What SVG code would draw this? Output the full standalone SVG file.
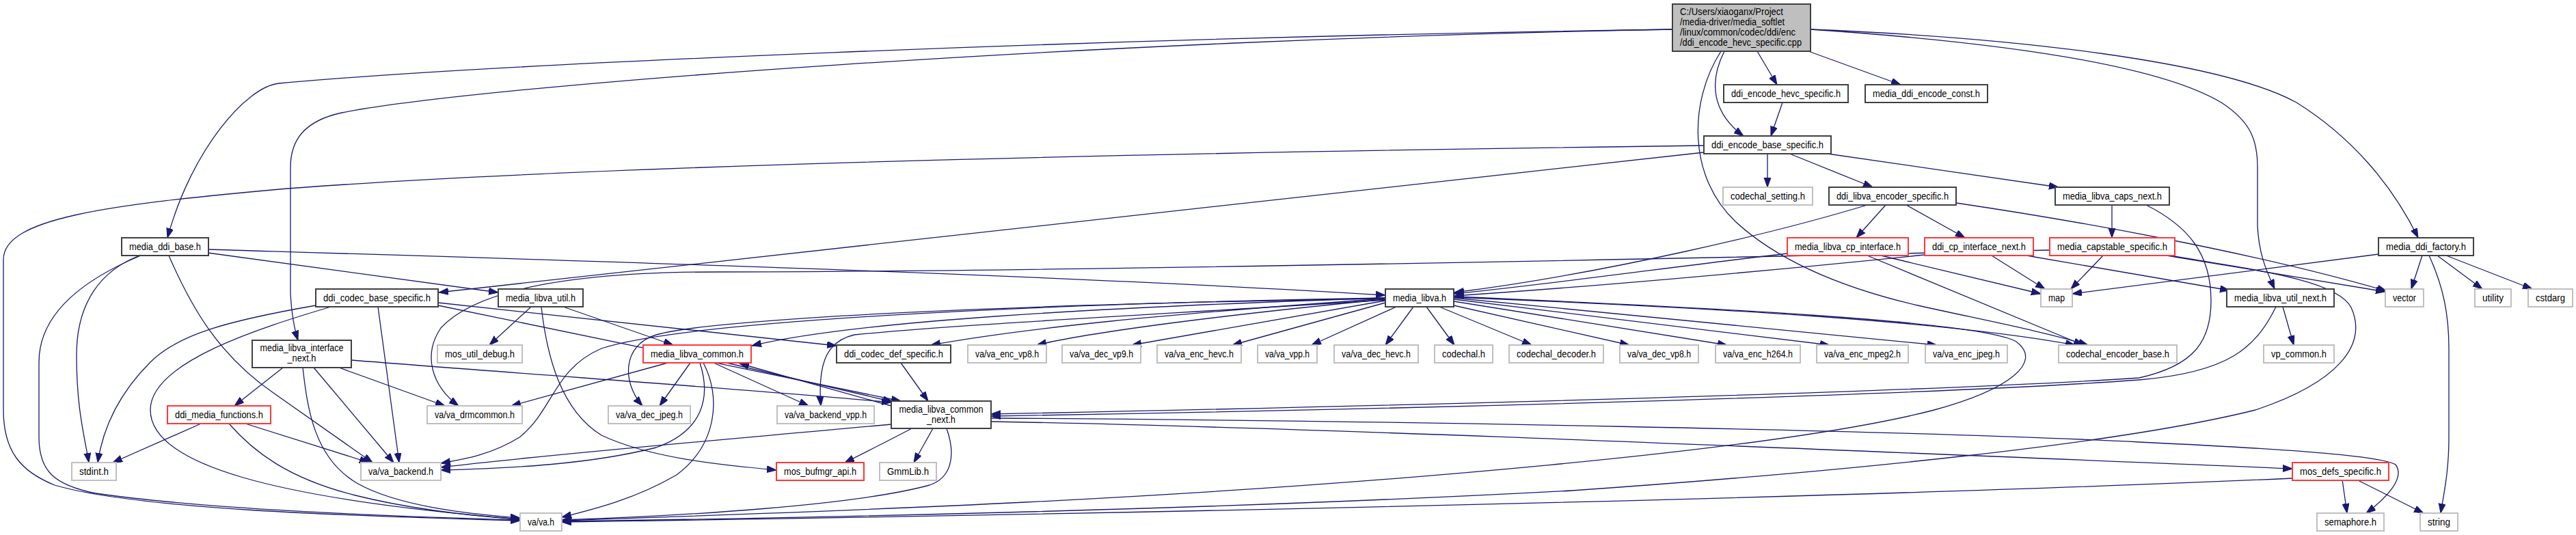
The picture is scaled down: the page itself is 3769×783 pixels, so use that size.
<svg xmlns="http://www.w3.org/2000/svg" width="3769" height="783" viewBox="0 0 3769 783">
<style>
rect{fill:#fff;stroke:#404040;stroke-width:2}
.g rect{stroke:#bfbfbf}
.r rect{stroke:#ff3838}
.root rect{fill:#bfbfbf}
text{font-family:"Liberation Sans",Arial,sans-serif;font-size:14px;fill:#000;text-anchor:middle}
.root text{text-anchor:start}
#edges path{fill:none;stroke:#191970;stroke-width:1.3;marker-end:url(#a)}
</style>
<defs>
<marker id="a" markerUnits="userSpaceOnUse" markerWidth="15" markerHeight="11" refX="14" refY="5" orient="auto"><path d="M0,0 L14,5 L0,10 z" fill="#191970" stroke="#191970" stroke-width="1"/></marker>
</defs>
<rect x="0" y="0" width="3769" height="783" style="fill:#fff;stroke:none"/>
<g id="edges">
<path d="M2447,43 C1600,55 700,95 408,122 C360,127 280,220 245,348"/>
<path d="M2447,43 C1600,58 700,125 500,165 C445,177 425,205 425,245 L425,430 Q427,470 436,498"/>
<path d="M2649,43 C2900,60 3150,90 3250,150 C3293,178 3303,205 3303,245 L3303,330 C3305,375 3318,400 3328,423"/>
<path d="M2649,43 C2950,55 3250,90 3360,150 C3440,200 3500,270 3538,348"/>
<path d="M2571,75 L2600,124"/>
<path d="M2646,75 L2781,124"/>
<path d="M2523,75 C2500,120 2505,165 2551,199"/>
<path d="M2518,75 C2470,150 2470,260 2540,325 C2600,380 2690,420 2806,447 C2900,468 2990,485 3055,505"/>
<path d="M2608,150 L2591,199"/>
<path d="M2586,224 L2586,274"/>
<path d="M2616,224 L2740,274"/>
<path d="M2667,224 L3012,274"/>
<path d="M2493,213 C1800,222 900,240 420,276 C150,300 5,320 5,380 L5,600 C5,660 30,690 80,710 C200,745 500,755 761,762"/>
<path d="M2493,223 L642,428"/>
<path d="M2759,300 L2716,348"/>
<path d="M2789,300 L2875,348"/>
<path d="M2732,300 C2600,340 2350,400 2128,428"/>
<path d="M2862,297 C3050,325 3300,370 3492,426"/>
<path d="M2615,371 C2450,390 2300,412 2128,430"/>
<path d="M2732,374 L3048,505"/>
<path d="M2752,374 L2986,430"/>
<path d="M2816,373 C2600,395 2350,418 2128,433"/>
<path d="M2914,374 L2992,423"/>
<path d="M2965,374 L3262,425"/>
<path d="M3077,374 L3030,423"/>
<path d="M3170,374 L3490,427"/>
<path d="M3175,374 C3300,395 3420,410 3440,450 C3465,505 3420,560 3300,600 C3100,650 2700,690 2300,718 C1800,745 1200,758 822,763"/>
<path d="M2999,366 C2500,378 1500,398 1050,398 C850,398 700,420 645,480 C618,520 632,565 671,594"/>
<path d="M3090,300 L3090,348"/>
<path d="M3140,300 C3200,330 3235,370 3235,440 C3235,500 3210,535 3130,553 C2800,575 2000,595 1450,606"/>
<path d="M3340,449 L3356,505"/>
<path d="M3330,449 C3300,510 3260,545 3130,556 C2800,580 2000,600 1450,609"/>
<path d="M3480,372 L3032,430"/>
<path d="M3544,374 L3528,423"/>
<path d="M3554,374 C3575,420 3583,460 3583,510 L3583,640 C3583,690 3576,720 3571,751"/>
<path d="M3566,374 L3632,423"/>
<path d="M3579,374 L3705,423"/>
<path d="M304,370 L729,428"/>
<path d="M304,365 C800,380 1500,400 2027,432"/>
<path d="M204,374 C150,395 112,440 112,520 C112,600 124,640 130,677"/>
<path d="M206,374 C120,410 57,460 57,530 L57,640 C57,690 80,710 140,722 C300,745 550,755 761,761"/>
<path d="M247,374 C280,450 320,520 400,575 C450,610 500,645 545,677"/>
<path d="M462,447 C330,470 260,490 220,530 C170,580 150,630 143,677"/>
<path d="M484,449 C380,480 220,530 220,600 C220,680 400,730 761,760"/>
<path d="M553,449 L584,677"/>
<path d="M641,443 L1224,506"/>
<path d="M641,447 L1318,587"/>
<path d="M1318,531 L1358,587"/>
<path d="M414,538 L343,594"/>
<path d="M459,538 L576,677"/>
<path d="M443,538 C450,600 460,670 522,707 C580,740 680,752 761,758"/>
<path d="M496,538 L651,594"/>
<path d="M514,527 C800,550 1100,570 1304,589"/>
<path d="M294,620 L165,677"/>
<path d="M359,620 L540,677"/>
<path d="M335,620 C370,660 420,700 520,725 C600,745 690,755 761,760"/>
<path d="M777,449 L716,505"/>
<path d="M824,449 L985,505"/>
<path d="M792,449 C800,520 820,600 880,637 C950,670 1050,680 1136,688"/>
<path d="M977,531 L748,594"/>
<path d="M1010,531 L965,594"/>
<path d="M1044,531 L1183,594"/>
<path d="M1024,531 C1040,580 1030,630 960,655 C860,680 750,685 645,688"/>
<path d="M1029,531 C1055,580 1050,650 990,695 C930,730 870,745 822,757"/>
<path d="M1063,531 L1306,588"/>
<path d="M1304,594 L1082,532"/>
<path d="M2043,449 L1919,505"/>
<path d="M2068,449 L2027,505"/>
<path d="M2087,449 L2128,505"/>
<path d="M2106,449 L2241,505"/>
<path d="M2127,447 L2384,505"/>
<path d="M2127,441 L2527,505"/>
<path d="M2127,438 L2677,505"/>
<path d="M2127,436 L2834,505"/>
<path d="M2127,435 C2500,450 2850,470 3036,505"/>
<path d="M2127,434 C2500,450 2900,470 2950,500 C2990,530 2940,570 2830,600 C2600,660 2000,710 1500,735 C1200,750 950,757 822,762"/>
<path d="M2027,437 C1700,460 1500,480 1362,505"/>
<path d="M2027,438 C1800,460 1600,485 1517,505"/>
<path d="M2027,440 L1656,505"/>
<path d="M2027,443 L1803,505"/>
<path d="M2027,436 C1600,450 1250,470 1100,506"/>
<path d="M2027,439 C1700,460 1400,475 1250,490 C1205,500 1197,540 1201,594"/>
<path d="M2027,437 C1500,445 1050,465 960,490 C910,505 910,560 940,594"/>
<path d="M2027,436 C1500,445 1000,470 880,510 C810,540 810,600 760,640 C720,665 680,672 645,678"/>
<path d="M1304,621 C1100,640 800,665 645,684"/>
<path d="M1334,627 C1300,645 1260,665 1236,677"/>
<path d="M1365,627 L1337,677"/>
<path d="M1385,627 C1400,670 1390,700 1360,710 C1250,740 1000,755 822,761"/>
<path d="M1450,617 C1900,625 2600,655 3354,686"/>
<path d="M1450,612 C2000,615 2800,630 3130,647 C3300,655 3480,665 3505,680 C3520,700 3490,730 3462,751"/>
<path d="M3427,702 L3434,751"/>
<path d="M3448,702 L3546,751"/>
<path d="M3354,700 C2800,725 1800,750 822,764"/>
</g>
<g id="root" class="root"><rect x="2447" y="6" width="202" height="69"/>
<text x="2458" y="21.5" textLength="151" lengthAdjust="spacingAndGlyphs">C:/Users/xiaoganx/Project</text>
<text x="2458" y="36.5" textLength="153" lengthAdjust="spacingAndGlyphs">/media-driver/media_softlet</text>
<text x="2458" y="51.5" textLength="169" lengthAdjust="spacingAndGlyphs">/linux/common/codec/ddi/enc</text>
<text x="2458" y="66.5" textLength="178" lengthAdjust="spacingAndGlyphs">/ddi_encode_hevc_specific.cpp</text></g>
<g id="n_dehs"><rect x="2522" y="124" width="182" height="26"/><text x="2613" y="142" textLength="160" lengthAdjust="spacingAndGlyphs">ddi_encode_hevc_specific.h</text></g>
<g id="n_mdec"><rect x="2729" y="124" width="179" height="26"/><text x="2818.5" y="142" textLength="157" lengthAdjust="spacingAndGlyphs">media_ddi_encode_const.h</text></g>
<g id="n_debs"><rect x="2493" y="199" width="186" height="26"/><text x="2586" y="217" textLength="164" lengthAdjust="spacingAndGlyphs">ddi_encode_base_specific.h</text></g>
<g id="n_cs" class="g"><rect x="2521" y="274" width="131" height="26"/><text x="2586.5" y="292" textLength="109" lengthAdjust="spacingAndGlyphs">codechal_setting.h</text></g>
<g id="n_dles"><rect x="2676" y="274" width="186" height="26"/><text x="2769" y="292" textLength="164" lengthAdjust="spacingAndGlyphs">ddi_libva_encoder_specific.h</text></g>
<g id="n_mlcan"><rect x="3007" y="274" width="167" height="26"/><text x="3090.5" y="292" textLength="145" lengthAdjust="spacingAndGlyphs">media_libva_caps_next.h</text></g>
<g id="n_mdb"><rect x="178" y="348" width="127" height="26"/><text x="241.5" y="366" textLength="105" lengthAdjust="spacingAndGlyphs">media_ddi_base.h</text></g>
<g id="n_mlcpi" class="r"><rect x="2615" y="348" width="177" height="26"/><text x="2703.5" y="366" textLength="155" lengthAdjust="spacingAndGlyphs">media_libva_cp_interface.h</text></g>
<g id="n_dcin" class="r"><rect x="2816" y="348" width="159" height="26"/><text x="2895.5" y="366" textLength="137" lengthAdjust="spacingAndGlyphs">ddi_cp_interface_next.h</text></g>
<g id="n_mcs" class="r"><rect x="2999" y="348" width="183" height="26"/><text x="3090.5" y="366" textLength="161" lengthAdjust="spacingAndGlyphs">media_capstable_specific.h</text></g>
<g id="n_mdf"><rect x="3480" y="348" width="139" height="26"/><text x="3549.5" y="366" textLength="117" lengthAdjust="spacingAndGlyphs">media_ddi_factory.h</text></g>
<g id="n_dcbs"><rect x="462" y="423" width="179" height="26"/><text x="551.5" y="441" textLength="157" lengthAdjust="spacingAndGlyphs">ddi_codec_base_specific.h</text></g>
<g id="n_mlu"><rect x="729" y="423" width="124" height="26"/><text x="791" y="441" textLength="102" lengthAdjust="spacingAndGlyphs">media_libva_util.h</text></g>
<g id="n_ml"><rect x="2027" y="423" width="100" height="26"/><text x="2077" y="441" textLength="78" lengthAdjust="spacingAndGlyphs">media_libva.h</text></g>
<g id="n_map" class="g"><rect x="2986" y="423" width="46" height="26"/><text x="3009" y="441" textLength="24" lengthAdjust="spacingAndGlyphs">map</text></g>
<g id="n_mlun"><rect x="3258" y="423" width="157" height="26"/><text x="3336.5" y="441" textLength="135" lengthAdjust="spacingAndGlyphs">media_libva_util_next.h</text></g>
<g id="n_vector" class="g"><rect x="3490" y="423" width="56" height="26"/><text x="3518" y="441" textLength="34" lengthAdjust="spacingAndGlyphs">vector</text></g>
<g id="n_utility" class="g"><rect x="3621" y="423" width="53" height="26"/><text x="3647.5" y="441" textLength="31" lengthAdjust="spacingAndGlyphs">utility</text></g>
<g id="n_cstdarg" class="g"><rect x="3699" y="423" width="65" height="26"/><text x="3731.5" y="441" textLength="43" lengthAdjust="spacingAndGlyphs">cstdarg</text></g>
<g id="n_mlin"><rect x="369" y="498" width="145" height="40"/><text x="441.5" y="514" textLength="122" lengthAdjust="spacingAndGlyphs">media_libva_interface</text><text x="441.5" y="529" textLength="42" lengthAdjust="spacingAndGlyphs">_next.h</text></g>
<g id="n_mud" class="g"><rect x="640" y="505" width="124" height="26"/><text x="702" y="523" textLength="102" lengthAdjust="spacingAndGlyphs">mos_util_debug.h</text></g>
<g id="n_mlc" class="r"><rect x="941" y="505" width="158" height="26"/><text x="1020" y="523" textLength="136" lengthAdjust="spacingAndGlyphs">media_libva_common.h</text></g>
<g id="n_dcds"><rect x="1224" y="505" width="167" height="26"/><text x="1307.5" y="523" textLength="145" lengthAdjust="spacingAndGlyphs">ddi_codec_def_specific.h</text></g>
<g id="n_vev8" class="g"><rect x="1416" y="505" width="115" height="26"/><text x="1473.5" y="523" textLength="93" lengthAdjust="spacingAndGlyphs">va/va_enc_vp8.h</text></g>
<g id="n_vdv9" class="g"><rect x="1554" y="505" width="115" height="26"/><text x="1611.5" y="523" textLength="93" lengthAdjust="spacingAndGlyphs">va/va_dec_vp9.h</text></g>
<g id="n_veh" class="g"><rect x="1693" y="505" width="123" height="26"/><text x="1754.5" y="523" textLength="101" lengthAdjust="spacingAndGlyphs">va/va_enc_hevc.h</text></g>
<g id="n_vvpp" class="g"><rect x="1840" y="505" width="87" height="26"/><text x="1883.5" y="523" textLength="65" lengthAdjust="spacingAndGlyphs">va/va_vpp.h</text></g>
<g id="n_vdh" class="g"><rect x="1952" y="505" width="123" height="26"/><text x="2013.5" y="523" textLength="101" lengthAdjust="spacingAndGlyphs">va/va_dec_hevc.h</text></g>
<g id="n_codechal" class="g"><rect x="2099" y="505" width="85" height="26"/><text x="2141.5" y="523" textLength="63" lengthAdjust="spacingAndGlyphs">codechal.h</text></g>
<g id="n_cdec" class="g"><rect x="2208" y="505" width="138" height="26"/><text x="2277" y="523" textLength="116" lengthAdjust="spacingAndGlyphs">codechal_decoder.h</text></g>
<g id="n_vdv8" class="g"><rect x="2370" y="505" width="115" height="26"/><text x="2427.5" y="523" textLength="93" lengthAdjust="spacingAndGlyphs">va/va_dec_vp8.h</text></g>
<g id="n_ve264" class="g"><rect x="2510" y="505" width="124" height="26"/><text x="2572" y="523" textLength="102" lengthAdjust="spacingAndGlyphs">va/va_enc_h264.h</text></g>
<g id="n_vem2" class="g"><rect x="2658" y="505" width="134" height="26"/><text x="2725" y="523" textLength="112" lengthAdjust="spacingAndGlyphs">va/va_enc_mpeg2.h</text></g>
<g id="n_vej" class="g"><rect x="2817" y="505" width="120" height="26"/><text x="2877" y="523" textLength="98" lengthAdjust="spacingAndGlyphs">va/va_enc_jpeg.h</text></g>
<g id="n_ceb" class="g"><rect x="3012" y="505" width="173" height="26"/><text x="3098.5" y="523" textLength="151" lengthAdjust="spacingAndGlyphs">codechal_encoder_base.h</text></g>
<g id="n_vpc" class="g"><rect x="3312" y="505" width="103" height="26"/><text x="3363.5" y="523" textLength="81" lengthAdjust="spacingAndGlyphs">vp_common.h</text></g>
<g id="n_dmf" class="r"><rect x="245" y="594" width="151" height="26"/><text x="320.5" y="612" textLength="129" lengthAdjust="spacingAndGlyphs">ddi_media_functions.h</text></g>
<g id="n_drm" class="g"><rect x="625" y="594" width="139" height="26"/><text x="694.5" y="612" textLength="117" lengthAdjust="spacingAndGlyphs">va/va_drmcommon.h</text></g>
<g id="n_vdj" class="g"><rect x="890" y="594" width="120" height="26"/><text x="950" y="612" textLength="98" lengthAdjust="spacingAndGlyphs">va/va_dec_jpeg.h</text></g>
<g id="n_vbv" class="g"><rect x="1137" y="594" width="142" height="26"/><text x="1208" y="612" textLength="120" lengthAdjust="spacingAndGlyphs">va/va_backend_vpp.h</text></g>
<g id="n_mlcn"><rect x="1304" y="587" width="146" height="40"/><text x="1377" y="603.5" textLength="123" lengthAdjust="spacingAndGlyphs">media_libva_common</text><text x="1377" y="618.5" textLength="42" lengthAdjust="spacingAndGlyphs">_next.h</text></g>
<g id="n_stdint" class="g"><rect x="105" y="677" width="65" height="26"/><text x="137.5" y="695" textLength="43" lengthAdjust="spacingAndGlyphs">stdint.h</text></g>
<g id="n_vab" class="g"><rect x="528" y="677" width="117" height="26"/><text x="586.5" y="695" textLength="95" lengthAdjust="spacingAndGlyphs">va/va_backend.h</text></g>
<g id="n_mba" class="r"><rect x="1136" y="677" width="128" height="26"/><text x="1200" y="695" textLength="106" lengthAdjust="spacingAndGlyphs">mos_bufmgr_api.h</text></g>
<g id="n_gmm" class="g"><rect x="1287" y="677" width="83" height="26"/><text x="1328.5" y="695" textLength="61" lengthAdjust="spacingAndGlyphs">GmmLib.h</text></g>
<g id="n_mds" class="r"><rect x="3354" y="677" width="141" height="26"/><text x="3424.5" y="695" textLength="119" lengthAdjust="spacingAndGlyphs">mos_defs_specific.h</text></g>
<g id="n_vah" class="g"><rect x="761" y="751" width="61" height="26"/><text x="791.5" y="769" textLength="39" lengthAdjust="spacingAndGlyphs">va/va.h</text></g>
<g id="n_sem" class="g"><rect x="3390" y="751" width="98" height="26"/><text x="3439" y="769" textLength="76" lengthAdjust="spacingAndGlyphs">semaphore.h</text></g>
<g id="n_string" class="g"><rect x="3541" y="751" width="55" height="26"/><text x="3568.5" y="769" textLength="33" lengthAdjust="spacingAndGlyphs">string</text></g>
</svg>
